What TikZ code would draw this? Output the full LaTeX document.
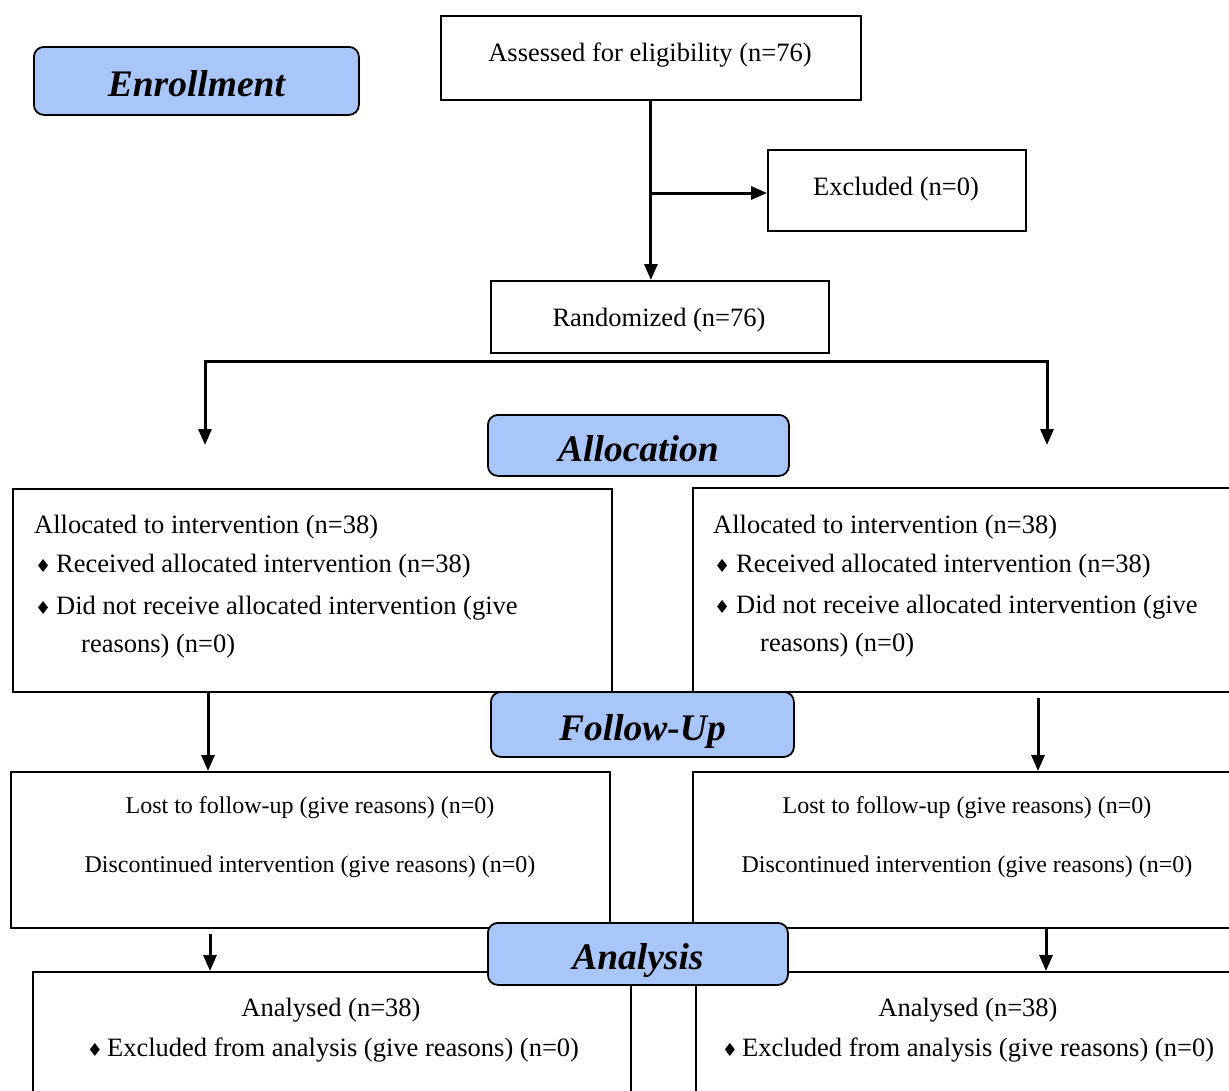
\documentclass[tikz,border=0pt]{standalone}
\usepackage{fontspec}
\setmainfont{Liberation Serif}
\newfontfamily\dvfont{DejaVu Sans}
\usetikzlibrary{arrows.meta}
\definecolor{phaseblue}{RGB}{168,198,250}
\newcommand{\bul}{{\dvfont\fontsize{18}{18}\selectfont ♦}}
\begin{document}
\begin{tikzpicture}[x=1pt,y=-1pt,
  box/.style={draw=black, line width=1.8pt, anchor=north west, inner sep=0pt, fill=white},
  phase/.style={draw=black, line width=1.8pt, anchor=north west, inner sep=0pt,
    fill=phaseblue, rounded corners=10pt, font=\fontsize{37.5}{40}\selectfont\bfseries\itshape,
    text height=34pt, text depth=2pt},
  txt/.style={inner sep=0pt, yshift=-3pt, font=\fontsize{26.5}{30}\selectfont},
  stxt/.style={inner sep=0pt, yshift=-2pt, font=\fontsize{24}{28}\selectfont},
  arr/.style={line width=3pt, -{Triangle[length=16pt,width=13pt]}}]
\useasboundingbox (0,0) rectangle (1229,1090);
\fill[white] (0,0) rectangle (1229,1090);
\clip (0,0) rectangle (1229,1090);

% enrollment
\node[box, minimum width=420pt, minimum height=84pt] (assess) at (440,15) {};
\node[txt] (assesst) at (650,52) {Assessed for eligibility (n=76)};
\node[box, minimum width=258pt, minimum height=81pt] (excl) at (767,149) {};
\node[txt] (exclt) at (896,186) {Excluded (n=0)};
\node[box, minimum width=338pt, minimum height=72pt] (rand) at (490,280) {};
\node[txt] (randt) at (659,317) {Randomized (n=76)};

\draw[arr] (assess.south) -- (assess.south |- rand.north);
\coordinate (br) at (650,193);
\draw[arr] (br) -- (br -| excl.west);

% split
\coordinate (sl) at (205,361);
\coordinate (sr) at (1047,361);
\coordinate (al) at (205,445);
\coordinate (ar) at (1047,445);
\draw[line width=3pt, {Triangle[length=16pt,width=13pt]}-{Triangle[length=16pt,width=13pt]}] (al) -- (sl) -- (sr) -- (ar);

% allocation boxes
\node[box, minimum width=599pt, minimum height=203pt] (lalloc) at (12,488) {};
\node[box, minimum width=550pt, minimum height=204pt] (ralloc) at (692,487) {};

\node[txt, anchor=west] (la1) at (34,524) {Allocated to intervention (n=38)};
\node[txt, anchor=west] (lb2) at (35,563) {\bul};
\node[txt, anchor=west] (la2) at (56,563) {Received allocated intervention (n=38)};
\node[txt, anchor=west] (lb3) at (35,605) {\bul};
\node[txt, anchor=west] (la3) at (56,605) {Did not receive allocated intervention (give};
\node[txt, anchor=west] (la4) at (81,643) {reasons) (n=0)};

\node[txt, anchor=west] (ra1) at (713,524) {Allocated to intervention (n=38)};
\node[txt, anchor=west] (rb2) at (714,563) {\bul};
\node[txt, anchor=west] (ra2) at (736,563) {Received allocated intervention (n=38)};
\node[txt, anchor=west] (rb3) at (714,604) {\bul};
\node[txt, anchor=west] (ra3) at (736,604) {Did not receive allocated intervention (give};
\node[txt, anchor=west] (ra4) at (760,642) {reasons) (n=0)};

% follow-up boxes
\node[box, minimum width=599pt, minimum height=156pt] (lfu) at (10,771) {};
\node[box, minimum width=550pt, minimum height=156pt] (rfu) at (692,771) {};
\node[stxt] (lf1) at (310,806) {Lost to follow-up (give reasons) (n=0)};
\node[stxt] (lf2) at (310,865) {Discontinued intervention (give reasons) (n=0)};
\node[stxt] (rf1) at (967,806) {Lost to follow-up (give reasons) (n=0)};
\node[stxt] (rf2) at (967,865) {Discontinued intervention (give reasons) (n=0)};

% analysis boxes
\node[box, minimum width=598pt, minimum height=150pt] (lan) at (32,971) {};
\node[box, minimum width=545pt, minimum height=150pt] (ran) at (695,971) {};
\node[txt] (ln1) at (331,1007) {Analysed (n=38)};
\node[txt] (ln2) at (333,1047) {\bul\hspace{4pt}Excluded from analysis (give reasons) (n=0)};
\node[txt] (rn1) at (968,1007) {Analysed (n=38)};
\node[txt] (rn2) at (968,1047) {\bul\hspace{4pt}Excluded from analysis (give reasons) (n=0)};

% connectors
\coordinate (x1) at (208,0);
\coordinate (x2) at (1038,0);
\coordinate (x3) at (210,0);
\coordinate (x4) at (1046,0);
\draw[arr] (x1 |- lalloc.south) -- (x1 |- lfu.north);
\draw[arr] ([yshift=-5pt]x2 |- ralloc.south) -- (x2 |- rfu.north);
\draw[arr] ([yshift=-5pt]x3 |- lfu.south) -- (x3 |- lan.north);
\draw[arr] (x4 |- rfu.south) -- (x4 |- ran.north);

% phase labels
\node[phase, minimum width=325pt, minimum height=68pt] (enr) at (33,46) {Enrollment};
\node[phase, minimum width=301pt, minimum height=61pt] (alloc) at (487,414) {Allocation};
\node[phase, minimum width=303pt, minimum height=65pt] (fup) at (490,691) {Follow-Up};
\node[phase, minimum width=300pt, minimum height=62pt] (anal) at (487,922) {Analysis};
\end{tikzpicture}
\end{document}
